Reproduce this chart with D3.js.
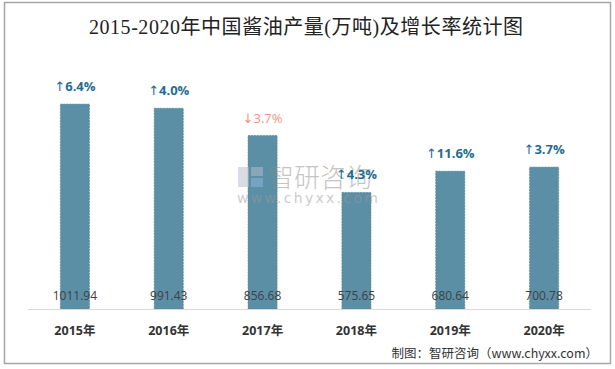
<!DOCTYPE html>
<html><head><meta charset="utf-8">
<script src="https://cdn.jsdelivr.net/npm/d3@7"></script>
<style>html,body{margin:0;padding:0;background:#fff;}svg{display:block;}</style>
</head><body>
<svg id="c" width="615" height="369"></svg>
<script>
const categories = ["2015年","2016年","2017年","2018年","2019年","2020年"];
const values = [1011.94, 991.43, 856.68, 575.65, 680.64, 700.78];
const valueLabels = ["1011.94","991.43","856.68","575.65","680.64","700.78"];
const growth = ["6.4%","4.0%","3.7%","4.3%","11.6%","3.7%"];
const direction = ["up","up","down","up","up","up"];
const titleText = "2015-2020年中国酱油产量(万吨)及增长率统计图";
const sourceText = "制图：智研咨询（www.chyxx.com）";

const svg = d3.select("#c");
svg.append("rect").attr("x",4.5).attr("y",2.5).attr("width",606).attr("height",361)
  .attr("fill","#fff").attr("stroke","#a6a6a6").attr("stroke-width",1.5);

const x = d3.scaleBand().domain(categories).range([28,591]).paddingInner(0.69).paddingOuter(0.345);
const y = d3.scaleLinear().domain([0,1200]).range([309,66]);

svg.append("text").attr("x",306).attr("y",34).attr("text-anchor","middle")
  .attr("font-family","'Liberation Serif','Noto Sans CJK SC',serif").attr("font-size",20)
  .attr("textLength",434).attr("lengthAdjust","spacing")
  .attr("fill","#222").text(titleText);

svg.append("g").selectAll("rect").data(values).join("rect")
  .attr("x",(d,i)=>x(categories[i])).attr("y",d=>y(d))
  .attr("width",x.bandwidth()).attr("height",d=>y(0)-y(d))
  .attr("fill","#5b8fa6").attr("stroke","#4f8098").attr("stroke-width",0.6).attr("stroke-dasharray","2,1");

// baseline
svg.append("line").attr("x1",28).attr("x2",591).attr("y1",309.5).attr("y2",309.5)
  .attr("stroke","#d9d9d9").attr("stroke-width",1);

// watermark
const wm = svg.append("g").attr("opacity",0.5);
wm.append("rect").attr("x",238).attr("y",167).attr("width",11).attr("height",20).attr("fill","#b4bdc9");
wm.append("rect").attr("x",251).attr("y",167).attr("width",12).attr("height",9).attr("fill","#b4bdc9");
wm.append("rect").attr("x",251).attr("y",178).attr("width",12).attr("height",9).attr("fill","#8fb7dc");
wm.append("text").attr("x",268).attr("y",187).attr("font-family","'Noto Sans CJK SC',sans-serif")
  .attr("font-size",26).attr("font-weight",300).attr("fill","#8c8c8c").attr("textLength",104).text("智研咨询");
wm.append("text").attr("x",237).attr("y",203).attr("font-family","'DejaVu Sans',sans-serif")
  .attr("font-size",14).attr("fill","#9a9a9a").attr("textLength",141).attr("lengthAdjust","spacing").text("www.chyxx.com");

// value labels
svg.append("g").selectAll("text").data(valueLabels).join("text")
  .attr("x",(d,i)=>x(categories[i])+x.bandwidth()/2).attr("y",300)
  .attr("text-anchor","middle").attr("font-family","'Open Sans','Liberation Sans',sans-serif")
  .attr("font-size",12).attr("fill","#404040").text(d=>d);

// growth labels
const gl = svg.append("g").selectAll("text").data(growth).join("text")
  .attr("x",(d,i)=>x(categories[i])+x.bandwidth()/2).attr("y",(d,i)=>y(values[i])-13)
  .attr("text-anchor","middle").attr("font-family","'Open Sans','Liberation Sans',sans-serif")
  .attr("font-size",13).attr("font-weight",(d,i)=>direction[i]==="up"?"bold":"normal")
  .attr("fill",(d,i)=>direction[i]==="up"?"#1f6c94":"#f0957f");
gl.append("tspan").attr("font-family","'DejaVu Sans',sans-serif").attr("font-weight","normal")
  .text((d,i)=>direction[i]==="up"?"↑":"↓");
gl.append("tspan").text(d=>d);

// category axis
const ax = d3.axisBottom(x).tickSize(0).tickPadding(0);
const g = svg.append("g").attr("transform","translate(0,309)").call(ax);
g.select(".domain").remove();
g.selectAll("text").attr("y",17).attr("font-family","'Open Sans','Noto Sans CJK SC',sans-serif")
  .attr("font-size",12.5).attr("font-weight","bold").attr("fill","#333");

svg.append("text").attr("x",598).attr("y",358).attr("text-anchor","end")
  .attr("font-family","'Noto Sans CJK SC',sans-serif").attr("font-size",12.5).attr("fill","#333").text(sourceText);
</script>
</body></html>
